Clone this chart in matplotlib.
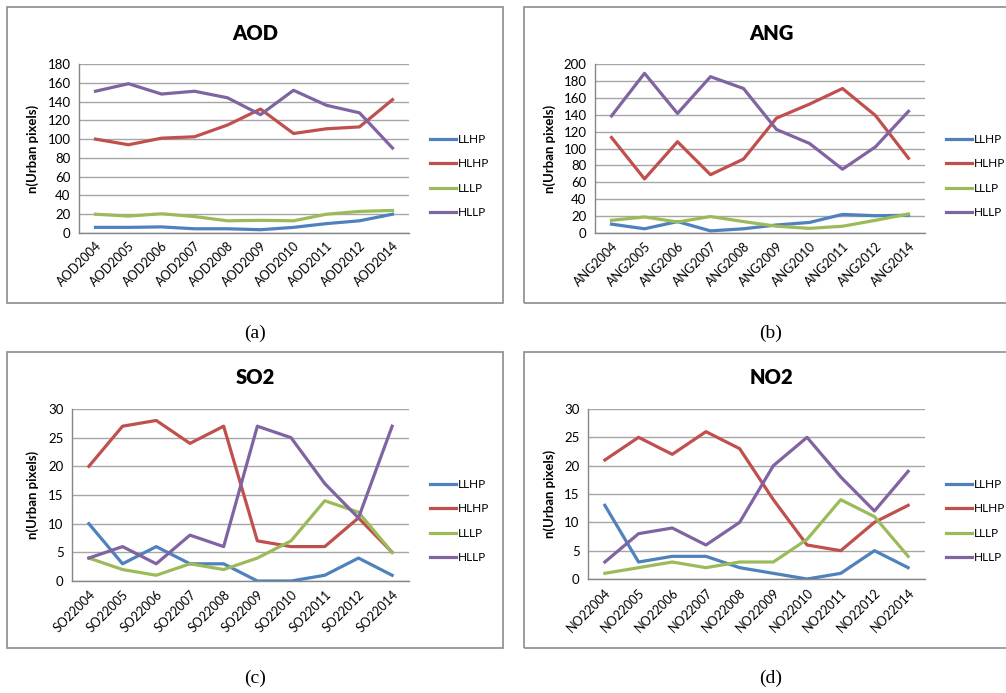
import matplotlib
matplotlib.use("Agg")
import matplotlib.pyplot as plt
from matplotlib.patches import Rectangle

W, H = 1006, 693

years = ["2004", "2005", "2006", "2007", "2008", "2009", "2010", "2011", "2012", "2014"]
series_names = ["LLHP", "HLHP", "LLLP", "HLLP"]
colors = ["#4F81BD", "#C0504D", "#9BBB59", "#8064A2"]

aod_llhp = [6, 6, 6.5, 4.5, 4.5, 3.5, 6, 10, 13, 20]
aod_hlhp = [100, 94, 101, 102.5, 115, 132, 106, 111, 113, 142]
aod_lllp = [20, 18, 20.5, 17.5, 13, 13.5, 13, 20, 23, 24]
aod_hllp = [151, 159, 148, 151, 144, 126, 152, 136, 128, 90.5]

ang_llhp = [10.5, 5, 13.5, 2.5, 5, 9.5, 12.5, 22, 20.5, 21]
ang_hlhp = [113, 64, 108, 69, 87.5, 136, 152.5, 171, 139, 88.5]
ang_lllp = [15, 19, 13, 19.5, 13.5, 8, 5.5, 8, 15, 22.5]
ang_hllp = [138.5, 189, 141.5, 185, 171, 122.5, 106, 75.5, 102, 144]

so2_llhp = [10, 3, 6, 3, 3, 0, 0, 1, 4, 1]
so2_hlhp = [20, 27, 28, 24, 27, 7, 6, 6, 11, 5]
so2_lllp = [4, 2, 1, 3, 2, 4, 7, 14, 12, 5]
so2_hllp = [4, 6, 3, 8, 6, 27, 25, 17, 11, 27]

no2_llhp = [13, 3, 4, 4, 2, 1, 0, 1, 5, 2]
no2_hlhp = [21, 25, 22, 26, 23, 14, 6, 5, 10, 13]
no2_lllp = [1, 2, 3, 2, 3, 3, 7, 14, 11, 4]
no2_hllp = [3, 8, 9, 6, 10, 20, 25, 18, 12, 19]

panels = [
    dict(title="AOD", prefix="AOD", data=[aod_llhp, aod_hlhp, aod_lllp, aod_hllp],
         ymax=180, ystep=20, frame=(7, 7, 503, 303), plot=(79, 64, 409, 233),
         cx=255, ty=33, ylx=33, legx=430, legy=176, cap="(a)", capy=333),
    dict(title="ANG", prefix="ANG", data=[ang_llhp, ang_hlhp, ang_lllp, ang_hllp],
         ymax=200, ystep=20, frame=(524, 7, 1012, 303), plot=(595, 64, 925, 233),
         cx=771, ty=33, ylx=550, legx=946, legy=176, cap="(b)", capy=333),
    dict(title="SO2", prefix="SO2", data=[so2_llhp, so2_hlhp, so2_lllp, so2_hllp],
         ymax=30, ystep=5, frame=(7, 352, 503, 648), plot=(72, 409, 409, 581),
         cx=255, ty=378, ylx=33, legx=430, legy=521, cap="(c)", capy=678),
    dict(title="NO2", prefix="NO2", data=[no2_llhp, no2_hlhp, no2_lllp, no2_hllp],
         ymax=30, ystep=5, frame=(524, 352, 1012, 648), plot=(588, 409, 925, 579),
         cx=771, ty=378, ylx=550, legx=946, legy=521, cap="(d)", capy=678),
]

fig = plt.figure(figsize=(W / 100, H / 100), dpi=100)
fig.patch.set_facecolor("white")

sans = ["Lato", "DejaVu Sans"]
grid_c = "#A6A6A6"
axis_c = "#868686"

def fx(x):
    return x / W

def fy(y):
    return 1 - y / H

for p in panels:
    x0, y0, x1, y1 = p["frame"]
    fig.patches.append(Rectangle((fx(x0), fy(y1)), fx(x1 - x0), (y1 - y0) / H,
                                 transform=fig.transFigure, fill=False,
                                 edgecolor="#8C8C8C", linewidth=1.2))
    px0, py0, px1, py1 = p["plot"]
    ax = fig.add_axes([fx(px0), fy(py1), fx(px1 - px0), (py1 - py0) / H])
    xs = list(range(len(years)))
    for name, vals, c in zip(series_names, p["data"], colors):
        ax.plot(xs, vals, color=c, linewidth=2.3, label=name, solid_joinstyle="round")
    ax.set_xlim(-0.5, len(years) - 0.5)
    ax.set_ylim(0, p["ymax"])
    ax.set_yticks(list(range(0, p["ymax"] + 1, p["ystep"])))
    ax.set_xticks(xs)
    ax.set_xticklabels([p["prefix"] + y for y in years], rotation=45, ha="right",
                       va="top", rotation_mode="anchor", fontsize=9, family=sans)
    for lab in ax.get_yticklabels():
        lab.set_fontsize(9.5)
        lab.set_family(sans)
    ax.tick_params(axis="both", length=0, pad=5, colors="black")
    ax.tick_params(axis="y", pad=6)
    ax.yaxis.grid(True, color=grid_c, linewidth=1.0)
    ax.set_axisbelow(True)
    for s in ["top", "right"]:
        ax.spines[s].set_visible(False)
    for s in ["left", "bottom"]:
        ax.spines[s].set_color(axis_c)
        ax.spines[s].set_linewidth(1.0)
    fig.text(fx(p["cx"]), fy(p["ty"]), p["title"], ha="center", va="center",
             fontsize=14.5, fontweight="heavy", family=sans)
    fig.text(fx(p["ylx"]), fy((py0 + py1) / 2), "n(Urban pixels)", rotation=90,
             ha="center", va="center", fontsize=9.5, fontweight="bold", family=sans)
    ax.legend(loc="center left", bbox_to_anchor=(fx(p["legx"]), fy(p["legy"])),
              bbox_transform=fig.transFigure, frameon=False, borderpad=0,
              borderaxespad=0, handlelength=2.2, handletextpad=0.2,
              labelspacing=1.15, prop={"family": sans, "size": 8.5})
    fig.text(fx(p["cx"]), fy(p["capy"]), p["cap"], ha="center", va="center",
             fontsize=14, family=["Liberation Serif", "DejaVu Serif"])

fig.savefig("out.png", dpi=100, facecolor="white")
